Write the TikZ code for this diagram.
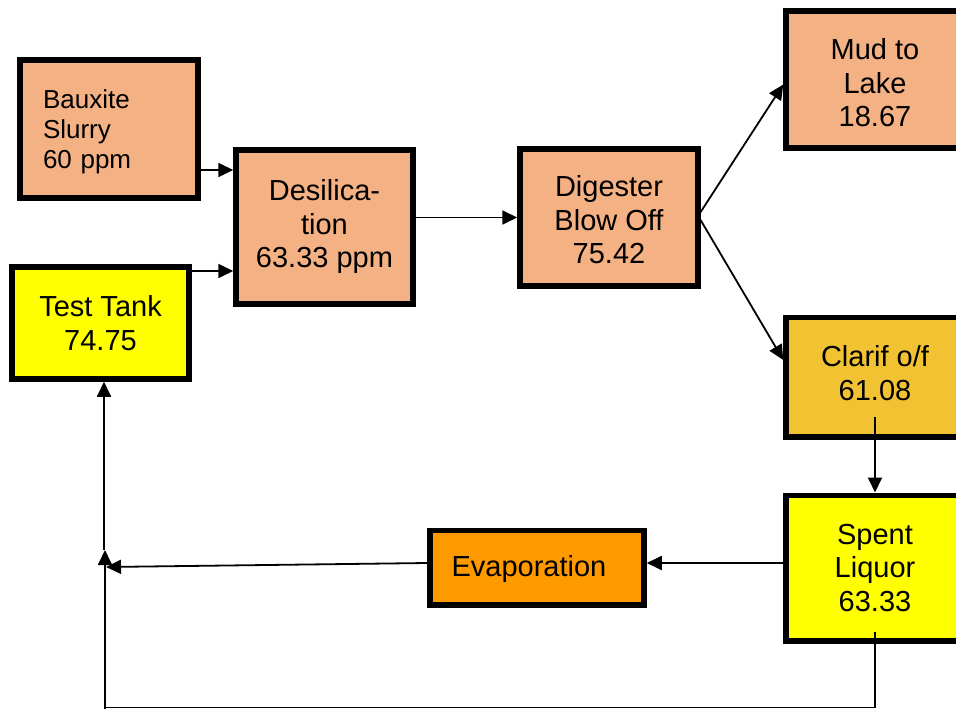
\documentclass[tikz,border=0pt]{standalone}
\usepackage{fontspec}
\setmainfont{Liberation Sans}
\usetikzlibrary{arrows.meta,calc}
\definecolor{salmon}{HTML}{F4B183}
\definecolor{ttyellow}{HTML}{FFFF00}
\definecolor{clarcol}{HTML}{F1C232}
\definecolor{evapcol}{HTML}{FF9900}
\begin{document}
\begin{tikzpicture}[x=1pt,y=-1pt,
  box/.style={draw=black,line width=5.5pt,inner sep=0pt,align=center,
    font=\fontsize{29}{33.5}\selectfont},
  arr/.style={line width=1.8pt,-{Triangle[length=15pt,width=14pt]}},
  ln/.style={line width=1.8pt}]
\useasboundingbox (0,0) rectangle (956,709);
\clip (0,0) rectangle (956,709);
\fill[white] (0,0) rectangle (956,709);

\node[box,fill=salmon,minimum width=178pt,minimum height=138pt,text width=132pt,align=left,
  font=\fontsize{26}{30}\selectfont] (bx) at (109,129) {\rule{0pt}{24.6pt}Bauxite\\Slurry\\60 ppm};
\node[box,fill=salmon,minimum width=177pt,minimum height=154pt] (des) at (324.5,227) {Desilica-\\tion\\63.33 ppm};
\node[box,fill=ttyellow,minimum width=177pt,minimum height=112pt] (tt) at (100.5,323) {Test Tank\\74.75};
\node[box,fill=salmon,minimum width=178pt,minimum height=137pt] (dig) at (609,217.5) {\rule{0pt}{26pt}Digester\\Blow Off\\75.42};
\node[box,fill=salmon,minimum width=178pt,minimum height=137pt] (mud) at (875,79.5) {\rule{0pt}{28pt}Mud to\\Lake\\18.67};
\node[box,fill=clarcol,minimum width=178pt,minimum height=119.5pt] (clar) at (875,377) {Clarif o/f\\61.08\rule[-8pt]{0pt}{8pt}};
\node[box,fill=ttyellow,minimum width=178pt,minimum height=145.5pt] (spent) at (875,568) {Spent\\Liquor\\63.33};
\node[box,fill=evapcol,minimum width=214pt,minimum height=74.5pt] (evap) at (537,567.5) {\rule{0pt}{25pt}Evaporation\hspace*{16pt}};

\coordinate (y170) at (0,170);
\coordinate (y271) at (0,271);
\coordinate (y563) at (0,563);
\coordinate (c1) at (875,417);
\coordinate (s1) at (875,632);
\coordinate (s2) at (875,707.5);
\coordinate (b1) at (105,707.5);
\coordinate (b0) at (105,712);
\coordinate (j1) at (105,550);
\coordinate (j0) at (104,550);
\coordinate (h1) at (106,567);
\coordinate (dg1) at (700,213);
\coordinate (dg2) at (700,219);

\draw[arr] (bx.east |- y170) -- (des.west |- y170);
\draw[arr] (tt.east |- y271) -- (des.west |- y271);
\draw[arr] (des.east |- dig.west) -- (dig.west);
\draw[arr] (dg1) -- ($(mud.west)+(0,5)$);
\draw[arr] (dg2) -- ($(clar.west)+(0,-17)$);
\draw[arr] (c1) -- (spent.north);
\draw[arr] (spent.west |- y563) -- (evap.east |- y563);
\draw[arr] (evap.west |- y563) -- (h1);
\draw[ln] (s1) -- (s2) -- (b1);
\draw[arr] (b0) -- (j1);
\draw[arr] (j0) -- ($(tt.south)+(3.5,0)$);
\end{tikzpicture}
\end{document}
